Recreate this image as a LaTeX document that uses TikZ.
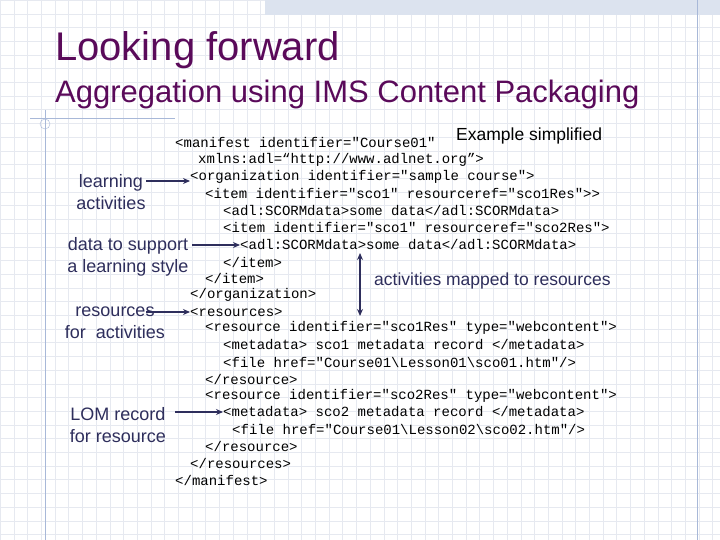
\documentclass[tikz,border=0pt]{standalone}
\usepackage{fontspec}
\setmainfont{Liberation Sans}
\newfontfamily\codefont{Liberation Mono}
\usetikzlibrary{arrows.meta}
\usetikzlibrary{positioning}
\definecolor{titlepurple}{HTML}{5A0A5A}
\definecolor{labelblue}{HTML}{2E2E5C}
\definecolor{gridblue}{HTML}{E6E9F0}
\definecolor{framblue}{HTML}{A8B8D8}
\tikzset{
  code/.style={anchor=west,inner sep=0pt,font=\codefont\fontsize{14}{14}\selectfont},
  lbl/.style={align=center,inner sep=0pt,text=labelblue,font=\fontsize{18}{22}\selectfont},
  arr/.style={labelblue,line width=2pt,-{Stealth[length=7pt,width=6pt]}}
}
\begin{document}
\begin{tikzpicture}[x=1pt,y=-1pt]
\useasboundingbox (0,0) rectangle (720,540);
\fill[white] (0,0) rectangle (720,540);
\foreach \i in {0,...,53} {
  \draw[gridblue,very thin] (\i*13.7,0) -- (\i*13.7,540);
}
\foreach \j in {0,...,40} {
  \draw[gridblue,very thin] (0,\j*13.7) -- (720,\j*13.7);
}
\fill[framblue!40] (265,0) rectangle (720,15);
\draw[framblue,thin] (697,0) -- (697,540);
\draw[framblue,thin] (30,118) -- (175,118);
\draw[framblue,thin] (45,110) -- (45,540);
\draw[framblue,thin] (45,124) circle (5);

\node[anchor=west,inner sep=0pt,text=titlepurple,font=\fontsize{40}{42}\selectfont] (title) at (55,50) {Looking forward};
\node[anchor=west,inner sep=0pt,text=titlepurple,font=\fontsize{31}{32}\selectfont] (subtitle) at (55,94) {Aggregation using IMS Content Packaging};
\node[anchor=west,inner sep=0pt,font=\fontsize{17.5}{18}\selectfont] (example) at (456,136) {Example simplified};

% manifest
\node[code] (l1) at (175,143) {<manifest identifier="Course01"};
\node[code] (l2) at (198,160) {xmlns:adl=“http://www.adlnet.org”>};
\node[code] (org) at (190,177) {<organization identifier="sample course">};
\node[code] (l4) at (205,194) {<item identifier="sco1" resourceref="sco1Res">>};
\node[code] (l5) at (223,211) {<adl:SCORMdata>some data</adl:SCORMdata>};
\node[code] (l6) at (223,228) {<item identifier="sco1" resourceref="sco2Res">};
\node[code] (data) at (240,245) {<adl:SCORMdata>some data</adl:SCORMdata>};
\node[code] (l8) at (223,262) {</item>};
\node[code] (l9) at (205,278) {</item>};
\node[code] (l10) at (190,295) {</organization>};
\node[code] (res) at (190,312) {<resources>};
\node[code] (l12) at (205,328) {<resource identifier="sco1Res" type="webcontent">};
\node[code] (l13) at (223,345) {<metadata> sco1 metadata record </metadata>};
\node[code] (l14) at (223,362) {<file href="Course01\string\Lesson01\string\sco01.htm"/>};
\node[code] (l15) at (205,379) {</resource>};
\node[code] (l16) at (205,396) {<resource identifier="sco2Res" type="webcontent">};
\node[code] (meta) at (223,412) {<metadata> sco2 metadata record </metadata>};
\node[code] (l18) at (232,429) {<file href="Course01\string\Lesson02\string\sco02.htm"/>};
\node[code] (l19) at (205,446) {</resource>};
\node[code] (l20) at (190,463) {</resources>};
\node[code] (l21) at (175,480) {</manifest>};

% labels
\node[lbl] (learn) at (111,192) {learning\\activities};
\node[lbl] (style) at (128,257) {data to support\\a learning style};
\node[lbl] (forres) at (115,323) {resources\\for\ \ activities};
\node[lbl] (lom) at (118,425) {LOM record\\for resource};
\node[inner sep=0pt,text=labelblue,font=\fontsize{17.5}{18}\selectfont,anchor=west] (mapped) at (374,281) {activities mapped to resources};

\coordinate (learnend) at (146,181);
\coordinate (styleend) at (192,245);
\coordinate (resend) at (146,312);
\coordinate (lomend) at (175,412);
\draw[arr] (learnend) -- (learnend -| org.west);
\draw[arr] (styleend) -- (styleend -| data.west);
\draw[arr] (resend) -- (resend -| res.west);
\draw[arr] (lomend) -- (lomend -| meta.west);
\coordinate (maptop) at (360,253);
\coordinate (mapbot) at (360,316);
\draw[labelblue,line width=1.8pt,{Stealth[length=7pt,width=6pt]}-{Stealth[length=7pt,width=6pt]}] (maptop) -- (mapbot);
\end{tikzpicture}
\end{document}
